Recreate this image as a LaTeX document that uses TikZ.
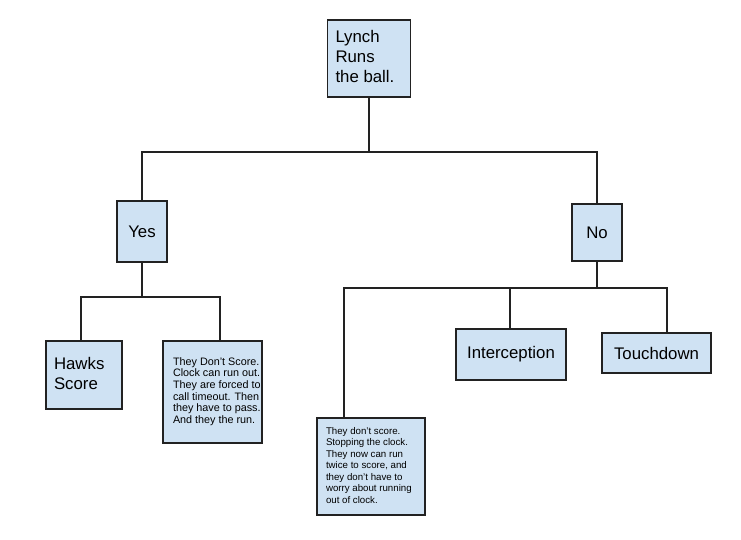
\documentclass[tikz,border=0pt]{standalone}
\usepackage{fontspec}
\setmainfont{Liberation Sans}
\definecolor{boxfill}{HTML}{CFE2F3}
\definecolor{linecol}{HTML}{222222}
\newcommand\mylbox[3]{\makebox[#2][l]{\hspace*{#1}\begin{tabular}{@{}l@{}}#3\end{tabular}}}
\tikzset{
  box/.style={draw=linecol, fill=boxfill, line width=1.8pt, rectangle, inner ysep=0pt, outer sep=0pt},
  bigtext/.style={font=\fontsize{16.8}{20}\selectfont},
  smalltext/.style={font=\fontsize{10.8}{11.6}\selectfont},
  tinytext/.style={font=\fontsize{9.7}{11.5}\selectfont},
  conn/.style={draw=linecol, line width=1.8pt}
}
\begin{document}
\begin{tikzpicture}[x=1pt, y=-1pt]
\useasboundingbox (0,0) rectangle (741,539);
% nodes
\node[box, bigtext, minimum width=83pt, minimum height=77pt, inner xsep=0pt] (top) at (369,58.5) {\mylbox{8pt}{83pt}{Lynch\\Runs\\the ball.}};
\node[box, bigtext, minimum width=50pt, minimum height=61pt, inner xsep=0pt] (yes) at (142,231.5) {Yes};
\node[box, bigtext, minimum width=50pt, minimum height=57pt, inner xsep=0pt] (no) at (597,232.5) {No};
\node[box, bigtext, minimum width=76pt, minimum height=68pt, inner xsep=0pt] (hawks) at (84,375) {\mylbox{8pt}{76pt}{Hawks\\Score}};
\node[box, smalltext, minimum width=99pt, minimum height=102pt, inner xsep=0pt] (dont) at (212.5,392) {\mylbox{10pt}{99pt}{They Don’t Score.\\Clock can run out.\\They are forced to\\call timeout. Then\\they have to pass.\\And they the run.}};
\node[box, bigtext, minimum width=110pt, minimum height=51pt, inner xsep=0pt] (inter) at (511,354.5) {Interception};
\node[box, bigtext, minimum width=109pt, minimum height=40pt, inner xsep=0pt] (touch) at (656.5,353) {Touchdown};
\node[box, tinytext, minimum width=108pt, minimum height=97pt, inner xsep=0pt] (stop) at (371,466.5) {\mylbox{9pt}{108pt}{They don’t score.\\Stopping the clock.\\They now can run\\twice to score, and\\they don’t have to\\worry about running\\out of clock.}};
% bus coordinates
\coordinate (b1) at (369,152);
\coordinate (b2) at (142,297);
\coordinate (b3) at (597,288);
% connectors
\draw[conn] (top.south) -- (top.south |- b1);
\draw[conn] (yes.north) -- (yes.north |- b1) -- (no.north |- b1) -- (no.north);
\draw[conn] (yes.south) -- (b2);
\draw[conn] ([xshift=-3pt]hawks.north) -- ([xshift=-3pt]hawks.north |- b2) -- ([xshift=7.5pt]dont.north |- b2) -- ([xshift=7.5pt]dont.north);
\draw[conn] (no.south) -- (b3);
\draw[conn] ([xshift=-27pt]stop.north) -- ([xshift=-27pt]stop.north |- b3) -- ([xshift=10.5pt]touch.north |- b3) -- ([xshift=10.5pt]touch.north);
\draw[conn] ([xshift=-1pt]inter.north) -- ([xshift=-1pt]inter.north |- b3);
\end{tikzpicture}
\end{document}
